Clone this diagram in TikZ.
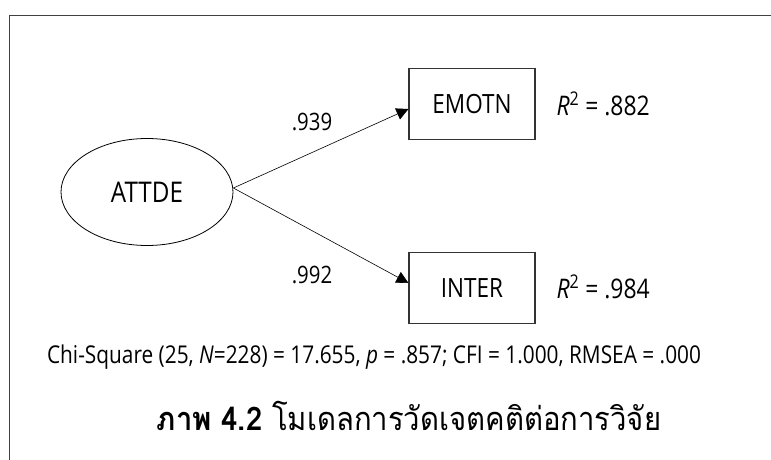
\documentclass[tikz,border=0pt]{standalone}
\usepackage{fontspec}
\setmainfont[FakeStretch=0.85]{Open Sans}
\newfontfamily\thaifont[Script=Thai,FakeStretch=0.9]{Loma}
\usetikzlibrary{shapes.geometric,arrows.meta}

\tikzset{
  varbox/.style={draw=black!80,line width=1.1pt,minimum width=126pt,minimum height=71pt,inner sep=0pt,font=\fontsize{26.5}{31}\selectfont},
  latent/.style={draw,ellipse,line width=0.8pt,minimum width=172pt,minimum height=107pt,inner sep=0pt,font=\fontsize{28.5}{32}\selectfont},
  path/.style={line width=0.6pt,-{Triangle[length=12pt,width=12pt]}},
  coef/.style={anchor=base,font=\fontsize{24}{28}\selectfont},
  rsq/.style={anchor=base west,font=\fontsize{27}{31}\selectfont}
}

\begin{document}
\begin{tikzpicture}[x=1pt,y=-1pt]
\useasboundingbox (0,0) rectangle (771,460);
\draw[line width=1.5pt,black!75] (9.5,460) -- (9.5,15.5) -- (771,15.5);

\node[latent] (attde) at (147,192) {ATTDE};
\node[varbox] (emotn) at (472,104) {EMOTN};
\node[varbox] (inter) at (472,288) {INTER};

\draw[path] ([yshift=4pt]attde.east) -- ([yshift=-5pt]emotn.west);
\draw[path] ([yshift=4pt]attde.east) -- ([yshift=5pt]inter.west);

\node[coef] (c1) at (312,130) {.939};
\node[coef] (c2) at (312,283) {.992};

\node[rsq] (r1) at (553,115) {\textit{R}\textsuperscript{2} = .882};
\node[rsq] (r2) at (553,298) {\textit{R}\textsuperscript{2} = .984};

\node[anchor=base,font=\fontsize{24.5}{29}\selectfont] (fit) at (374,363)
  {Chi-Square (25, \textit{N}=228) = 17.655, \textit{p} = .857; CFI = 1.000, RMSEA = .000};
\node[anchor=base,font=\fontsize{32.5}{38}\selectfont] (cap) at (409,430)
  {\thaifont\textbf{ภาพ 4.2} โมเดลการวัดเจตคติต่อการวิจัย};
\end{tikzpicture}
\end{document}
